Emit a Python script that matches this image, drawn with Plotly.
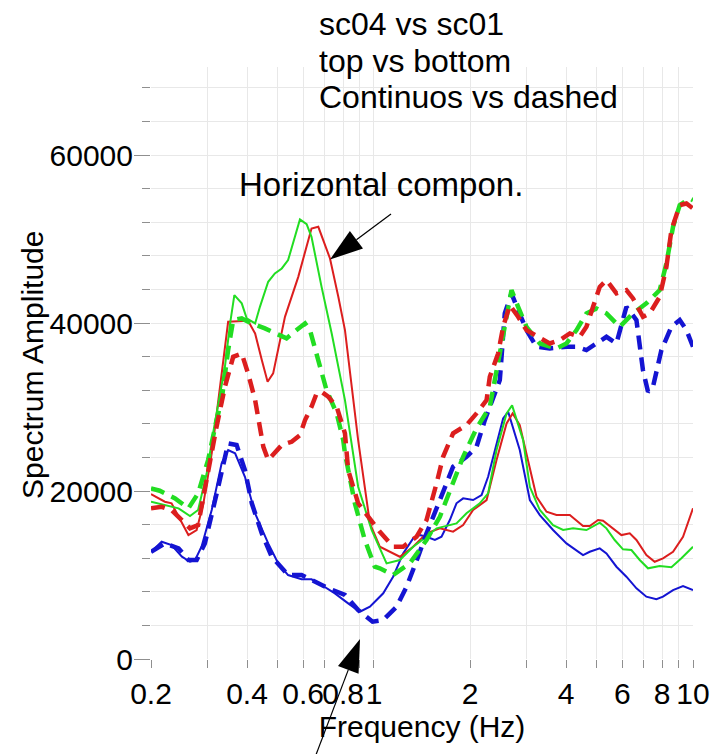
import math
import plotly.graph_objects as go

# ---------------- spectra: frequency (Hz) and amplitude ----------------
# sc04 (continuous lines)
top_red_f = [0.2, 0.221, 0.232, 0.247, 0.262, 0.278, 0.292, 0.31, 0.349, 0.403, 0.424, 0.445,
             0.464, 0.483, 0.526, 0.579, 0.637, 0.669, 0.728, 0.773, 0.811, 0.892, 0.971, 1.043,
             1.205, 1.327, 1.461, 1.609, 1.77, 1.903, 2.045, 2.254, 2.422, 2.604, 2.72, 2.864,
             3.006, 3.232, 3.474, 3.733, 4.11, 4.522, 4.746, 5.04, 5.224, 5.614, 5.966, 6.334,
             6.648, 7.142, 7.584, 8.054, 8.658, 9.306, 10.0]
top_red_a = [19640, 18730, 18540, 16550, 14760, 15360, 18540, 24490, 40160, 40270, 38770, 35600,
             33010, 34010, 40750, 45510, 51270, 51470, 47700, 43130, 39170, 26070, 16150, 13370,
             12180, 13370, 14960, 15560, 15160, 15950, 17740, 18930, 23690, 28060, 29250, 27860,
             24490, 19320, 17540, 17140, 17140, 15830, 15830, 16550, 16460, 15560, 14760, 14960,
             14170, 12380, 11580, 11990, 12770, 14560, 17940]

top_green_f = [0.2, 0.221, 0.244, 0.265, 0.281, 0.299, 0.313, 0.341, 0.354, 0.365, 0.385, 0.399,
               0.424, 0.439, 0.466, 0.489, 0.514, 0.538, 0.586, 0.615, 0.637, 0.685, 0.737, 0.811,
               0.892, 0.983, 1.056, 1.095, 1.205, 1.327, 1.461, 1.571, 1.814, 1.95, 2.146, 2.279,
               2.422, 2.604, 2.71, 2.934, 3.08, 3.31, 3.642, 3.916, 4.208, 4.634, 5.101, 5.354,
               5.682, 6.034, 6.412, 6.808, 7.228, 7.864, 8.558, 9.198, 10.0]
top_green_a = [18730, 18330, 17940, 17020, 17740, 22110, 26870, 34800, 39960, 43330, 42350, 40560,
               39960, 41940, 44920, 45920, 46510, 47500, 52350, 51790, 50270, 44320, 38770, 30830,
               20510, 15360, 12580, 11390, 11790, 13370, 14560, 15560, 16150, 17350, 18540, 19730,
               24880, 29250, 30200, 26070, 20510, 17740, 15950, 15360, 15560, 15360, 16230, 15560,
               14170, 13060, 12980, 11790, 10800, 11070, 10920, 11990, 13370]

top_blue_f = [0.2, 0.216, 0.232, 0.25, 0.265, 0.275, 0.288, 0.31, 0.333, 0.349, 0.367, 0.394,
              0.424, 0.466, 0.501, 0.538, 0.593, 0.637, 0.685, 0.754, 0.83, 0.903, 0.971, 1.069,
              1.148, 1.234, 1.327, 1.392, 1.461, 1.552, 1.628, 1.729, 1.814, 1.903, 2.045, 2.174,
              2.279, 2.422, 2.54, 2.634, 2.70, 2.864, 3.08, 3.31, 3.642, 4.012, 4.522, 4.746,
              5.101, 5.354, 5.754, 6.184, 6.648, 7.142, 7.678, 8.054, 8.658, 9.306, 10.0]
top_blue_a = [12770, 13970, 13570, 12180, 11580, 11790, 13370, 17740, 23300, 24880, 24490, 21700,
              17350, 13770, 11390, 10000, 9490, 9490, 8810, 7820, 6630, 5630, 6230, 7820,
              9800, 12580, 14370, 14760, 14560, 14170, 14560, 16550, 18540, 19130, 18930, 19520,
              21700, 25680, 28650, 29440, 28060, 24880, 18930, 17140, 15360, 13770, 12380, 12770,
              13180, 12580, 10990, 9800, 8420, 7420, 7110, 7420, 8210, 8690, 8210]

# sc01 (dashed lines)
bot_red_f = [0.2, 0.216, 0.232, 0.25, 0.265, 0.281, 0.302, 0.321, 0.341, 0.362, 0.385, 0.403,
             0.424, 0.439, 0.45, 0.466, 0.489, 0.514, 0.552, 0.586, 0.608, 0.637, 0.661, 0.685,
             0.719, 0.764, 0.811, 0.83, 0.892, 0.959, 1.04, 1.148, 1.234, 1.36, 1.461, 1.571,
             1.647, 1.77, 1.95, 2.096, 2.254, 2.307, 2.45, 2.54, 2.666, 2.83, 3.006, 3.27,
             3.556, 3.822, 4.11, 4.416, 4.634, 4.861, 5.101, 5.354, 5.754, 6.184, 6.487, 6.968,
             7.318, 7.864, 8.254, 8.558, 9.086, 9.536, 10.0]
bot_red_a = [17940, 18130, 17740, 16550, 15560, 15950, 22500, 27660, 32420, 35990, 36390, 34010,
             30830, 27660, 25270, 23690, 24490, 25480, 25870, 26670, 28450, 30040, 31630, 31820,
             31230, 30040, 26870, 22500, 18540, 16940, 15200, 13370, 13370, 14560, 16550, 20920,
             24080, 26870, 27860, 29250, 30830, 33610, 36390, 39560, 42140, 40750, 39170, 38370,
             37580, 37980, 38770, 38370, 39560, 41940, 44320, 45120, 43540, 43930, 42940, 40750,
             41160, 43130, 46700, 51070, 54050, 54250, 53650]

bot_green_f = [0.2, 0.213, 0.238, 0.262, 0.281, 0.302, 0.321, 0.333, 0.349, 0.362, 0.385, 0.414,
               0.455, 0.495, 0.532, 0.572, 0.608, 0.63, 0.669, 0.71, 0.764, 0.801, 0.811, 0.871,
               0.936, 0.971, 1.006, 1.043, 1.148, 1.295, 1.461, 1.609, 1.729, 1.903, 2.096, 2.307,
               2.48, 2.604, 2.698, 2.83, 3.006, 3.31, 3.733, 4.012, 4.315, 4.634, 4.982, 5.354,
               5.892, 6.487, 7.142, 7.864, 8.254, 8.658, 9.086, 9.768, 10.0]
bot_green_a = [20320, 20040, 19130, 17940, 19730, 23690, 28450, 30830, 36790, 40360, 40560, 39960,
               39370, 38770, 38180, 39170, 39960, 39170, 35600, 32020, 29250, 26070, 24490, 18540,
               14170, 12580, 10990, 10800, 10000, 11390, 14170, 16940, 20120, 24080, 27460, 30040,
               36390, 41160, 43930, 41940, 39560, 37580, 36990, 37580, 39170, 41160, 41750, 41160,
               39560, 41160, 42350, 43930, 47110, 51470, 54050, 54850, 54640]

bot_blue_f = [0.2, 0.221, 0.244, 0.262, 0.278, 0.295, 0.325, 0.349, 0.371, 0.394, 0.414, 0.445,
              0.478, 0.538, 0.593, 0.653, 0.719, 0.811, 0.892, 0.99, 1.069, 1.177, 1.265, 1.375,
              1.461, 1.609, 1.77, 1.95, 2.096, 2.226, 2.48, 2.57, 2.698, 2.83, 3.006, 3.232,
              3.556, 4.012, 4.315, 4.634, 4.982, 5.354, 5.754, 6.184, 6.648, 6.968, 7.228, 7.492,
              7.962, 8.558, 9.086, 9.536, 10.0]
bot_blue_a = [12770, 13770, 13180, 11790, 11790, 13770, 20510, 25680, 25480, 22500, 18540, 14960,
              12180, 10000, 10000, 9200, 8420, 7620, 5830, 4440, 4640, 6230, 8610, 12180,
              14960, 18930, 22890, 24080, 25270, 28450, 33210, 41160, 43540, 41550, 39170, 37180,
              36990, 37180, 37180, 36790, 37580, 38370, 37580, 41940, 40360, 34400, 31820, 32420,
              36790, 39560, 40360, 39170, 37180]

# axis ticks
x_tickvals = [0.2, 0.3, 0.4, 0.5, 0.6, 0.7, 0.8, 0.9, 1, 2, 3, 4, 5, 6, 7, 8, 9, 10]
x_ticktext = ["0.2", "", "0.4", "", "0.6", "", "0.8", "", "1", "2", "", "4", "", "6", "", "8", "", "10"]

RED, GREEN, BLUE = "#dc1e1e", "#22dd22", "#1414d2"
FONT = "Liberation Sans, Arial, sans-serif"
GRID = "#e8e8e8"
TICK = "#8f8f8f"

# ---------------- page geometry (pixels) ----------------
W, H = 715, 754
ML, MR, MT, MB = 151, 22, 67, 95
PW, PH = W - ML - MR, H - MT - MB


def px(x):
    return (x - ML) / PW


def py(y):
    return (H - MB - y) / PH


fig = go.Figure()

series = [
    (top_blue_f, top_blue_a, BLUE, "solid", 2.0, "sc04 blue"),
    (top_red_f, top_red_a, RED, "solid", 2.0, "sc04 red"),
    (top_green_f, top_green_a, GREEN, "solid", 2.0, "sc04 green"),
    (bot_blue_f, bot_blue_a, BLUE, "14px,8px", 4.5, "sc01 blue"),
    (bot_green_f, bot_green_a, GREEN, "14px,8px", 4.5, "sc01 green"),
    (bot_red_f, bot_red_a, RED, "14px,8px", 4.5, "sc01 red"),
]
for f, a, c, d, w, n in series:
    fig.add_trace(go.Scatter(x=f, y=a, mode="lines", name=n,
                             line=dict(color=c, width=w, dash=d)))


def arrow(tail, tip, head_len, half_w):
    """Thin shaft with a filled triangular head, given in page pixels."""
    tx, ty = tail
    hx, hy = tip
    d = math.hypot(tx - hx, ty - hy)
    ux, uy = (tx - hx) / d, (ty - hy) / d
    bx, by = hx + ux * head_len, hy + uy * head_len
    nx, ny = -uy, ux
    c1 = (bx + nx * half_w, by + ny * half_w)
    c2 = (bx - nx * half_w, by - ny * half_w)
    fig.add_shape(type="line", xref="paper", yref="paper",
                  x0=px(tx), y0=py(ty), x1=px(bx), y1=py(by),
                  line=dict(color="black", width=1.2))
    path = "M{},{} L{},{} L{},{} Z".format(px(hx), py(hy), px(c1[0]), py(c1[1]),
                                          px(c2[0]), py(c2[1]))
    fig.add_shape(type="path", xref="paper", yref="paper", path=path,
                  fillcolor="black", line=dict(width=0))


arrow((391, 214), (330, 259.5), 33, 11)
arrow((314, 760), (360, 639), 33, 11)


def label(text, x, y, size, angle=0, xanchor="left"):
    # x: left edge, y: baseline, both in page pixels
    fig.add_annotation(text=text, xref="paper", yref="paper", textangle=angle,
                       x=px(x - 1), y=py(y - 0.3465 * size), xanchor=xanchor, yanchor="middle",
                       showarrow=False, font=dict(family=FONT, size=size, color="black"))


label("sc04 vs sc01", 318, 35, 32)
label("top vs bottom", 318, 72, 32)
label("Continuos vs dashed", 318, 108.5, 32)
label("Horizontal compon.", 238, 196, 33)

# vertical axis title
fig.add_annotation(text="Spectrum Amplitude", xref="paper", yref="paper", textangle=-90,
                   x=px(32), y=py(365), xanchor="center", yanchor="middle", showarrow=False,
                   font=dict(family=FONT, size=30, color="black"))

fig.update_layout(
    width=W, height=H,
    margin=dict(l=ML, r=MR, t=MT, b=MB),
    paper_bgcolor="white", plot_bgcolor="white",
    showlegend=False,
    font=dict(family=FONT, size=30, color="black"),
    xaxis=dict(
        type="log", range=[math.log10(0.2), 1.0], automargin=False,
        tickmode="array", tickvals=x_tickvals, ticktext=x_ticktext, tickangle=0,
        ticks="outside", ticklen=8, tickwidth=1, tickcolor=TICK,
        showgrid=True, gridcolor=GRID, gridwidth=1, zeroline=False, showline=False,
        tickfont=dict(family=FONT, size=30, color="black"),
        title=dict(text="Frequency (Hz)", font=dict(family=FONT, size=30, color="black"),
                   standoff=4),
    ),
    yaxis=dict(
        range=[0, 70500], tickmode="linear", tick0=0, dtick=20000, tickformat="d",
        automargin=False, ticklabelstandoff=-5,
        ticks="outside", ticklen=16, tickwidth=1, tickcolor=TICK,
        showgrid=True, gridcolor=GRID, gridwidth=1, zeroline=False, showline=False,
        tickfont=dict(family=FONT, size=30, color="black"),
        minor=dict(tick0=0, dtick=4000, ticks="outside", ticklen=8, tickcolor=TICK,
                   showgrid=True, gridcolor=GRID, gridwidth=1),
    ),
)

fig.write_html("out.html")
